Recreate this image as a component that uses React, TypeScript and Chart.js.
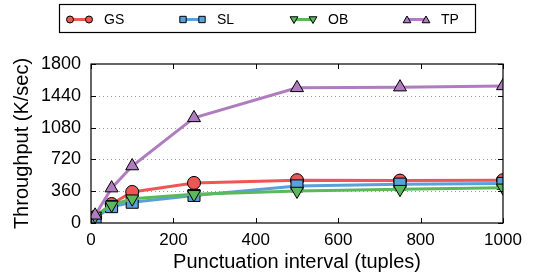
import React, { useEffect, useRef } from "react";
import { Chart, registerables } from "chart.js";
import { drawPoint } from "chart.js/helpers";

Chart.register(...registerables);

const intervals = [10, 50, 100, 250, 500, 750, 1000];
const gsValues = [70, 215, 352, 454, 485, 480, 485];
const slValues = [55, 185, 235, 312, 420, 440, 448];
const obValues = [80, 205, 275, 325, 362, 383, 398];
const tpValues = [87, 395, 645, 1190, 1530, 1538, 1552];
const seriesNames = ["GS", "SL", "OB", "TP"];
const xTicks = [0, 200, 400, 600, 800, 1000];
const yTicks = [0, 360, 720, 1080, 1440, 1800];

const FONT = "'Liberation Sans', Arial, Helvetica, sans-serif";

const styles = [
  { color: "#ee5555", point: "circle", r: 6.5, rot: 0, lr: 3.5 },
  { color: "#5aa0dc", point: "rect", r: 8.5, rot: 0, lr: 4.5 },
  { color: "#5cb85c", point: "triangle", r: 7.5, rot: 180, lr: 4.5 },
  { color: "#b07cc0", point: "triangle", r: 7.5, rot: 0, lr: 4.5 },
];

const legendStarts = [70, 183, 294, 407];

const gridPlugin = {
  id: "dottedGrid",
  beforeDatasetsDraw(chart: any) {
    const ctx = chart.ctx;
    const a = chart.chartArea;
    const ys = chart.scales.y;
    ctx.save();
    ctx.strokeStyle = "#999";
    ctx.lineWidth = 1;
    ctx.setLineDash([1, 3]);
    ctx.beginPath();
    yTicks.slice(1, -1).forEach((v) => {
      const py = Math.round(ys.getPixelForValue(v)) + 0.5;
      ctx.moveTo(a.left, py);
      ctx.lineTo(a.right, py);
    });
    ctx.stroke();
    ctx.restore();
  },
};

const framePlugin = {
  id: "frameLegend",
  afterDraw(chart: any) {
    const ctx = chart.ctx;
    const a = chart.chartArea;
    const xs = chart.scales.x;
    const ys = chart.scales.y;
    ctx.save();
    ctx.strokeStyle = "#000";
    ctx.lineWidth = 1.2;
    ctx.strokeRect(a.left, a.top, a.right - a.left, a.bottom - a.top);
    ctx.lineWidth = 1;
    ctx.beginPath();
    xTicks.forEach((v) => {
      const px = Math.round(xs.getPixelForValue(v)) + 0.5;
      ctx.moveTo(px, a.bottom);
      ctx.lineTo(px, a.bottom - 5);
      ctx.moveTo(px, a.top);
      ctx.lineTo(px, a.top + 5);
    });
    yTicks.forEach((v) => {
      const py = Math.round(ys.getPixelForValue(v)) + 0.5;
      ctx.moveTo(a.left, py);
      ctx.lineTo(a.left + 5, py);
      ctx.moveTo(a.right, py);
      ctx.lineTo(a.right - 5, py);
    });
    ctx.stroke();

    // legend
    ctx.lineWidth = 1.2;
    ctx.strokeRect(59.5, 4.5, 416, 28);
    const cy = 19.5;
    ctx.font = `14px ${FONT}`;
    ctx.textBaseline = "middle";
    seriesNames.forEach((name, i) => {
      const s = styles[i];
      const x1 = legendStarts[i];
      const x2 = x1 + 19;
      ctx.strokeStyle = s.color;
      ctx.lineWidth = 3;
      ctx.beginPath();
      ctx.moveTo(x1, cy);
      ctx.lineTo(x2, cy);
      ctx.stroke();
      [x1, x2].forEach((mx) => {
        ctx.fillStyle = s.color;
        ctx.strokeStyle = "#000";
        ctx.lineWidth = 1;
        drawPoint(
          ctx,
          { pointStyle: s.point, radius: s.lr, rotation: s.rot, borderWidth: 1 } as any,
          mx,
          cy + (s.point === "triangle" ? (s.rot ? -0.5 : 1) : 0)
        );
      });
      ctx.fillStyle = "#000";
      ctx.fillText(name, x1 + 34, cy + 0.5);
    });
    ctx.restore();
  },
};

export default function App() {
  const ref = useRef<HTMLCanvasElement | null>(null);
  useEffect(() => {
    document.body.style.margin = "0";
    const all = [gsValues, slValues, obValues, tpValues];
    const chart = new Chart(ref.current as HTMLCanvasElement, {
      type: "line",
      data: {
        datasets: all.map((vals, i) => ({
          label: seriesNames[i],
          data: intervals.map((x, j) => ({ x, y: vals[j] })),
          borderColor: styles[i].color,
          backgroundColor: styles[i].color,
          pointBackgroundColor: styles[i].color,
          pointBorderColor: "#000",
          pointBorderWidth: 1,
          borderWidth: 3,
          pointStyle: styles[i].point as any,
          pointRadius: styles[i].r,
          pointRotation: styles[i].rot,
          order: 4 - i,
          tension: 0,
          fill: false,
        })),
      },
      options: {
        animation: false,
        responsive: false,
        maintainAspectRatio: false,
        layout: { padding: { top: 64, right: 35, left: 0, bottom: 0 } },
        plugins: { legend: { display: false }, tooltip: { enabled: false } },
        scales: {
          x: {
            type: "linear",
            min: 0,
            max: 1000,
            afterFit: (s: any) => {
              s.height = 51;
            },
            ticks: {
              stepSize: 200,
              color: "#000",
              font: { family: FONT, size: 17 },
              padding: 7,
              maxRotation: 0,
              callback: (v: any) => String(v),
            },
            grid: { display: false, drawTicks: false },
            border: { display: false },
            title: {
              display: true,
              text: "Punctuation interval (tuples)",
              color: "#000",
              font: { family: FONT, size: 20 },
              padding: { top: 5, bottom: 0 },
            },
          },
          y: {
            min: 0,
            max: 1800,
            afterFit: (s: any) => {
              s.width = 91;
            },
            ticks: {
              stepSize: 360,
              color: "#000",
              font: { family: FONT, size: 18 },
              padding: 10,
              callback: (v: any) => String(v),
            },
            grid: { display: false, drawTicks: false },
            border: { display: false },
            title: {
              display: true,
              text: "Throughput (K/sec)",
              color: "#000",
              font: { family: FONT, size: 20 },
              padding: { top: 10, bottom: 0 },
            },
          },
        },
      },
      plugins: [gridPlugin, framePlugin],
    } as any);
    return () => chart.destroy();
  }, []);
  return (
    <div style={{ position: "absolute", left: 0, top: 0, width: 538, height: 274, background: "#fff" }}>
      <canvas ref={ref} width={538} height={274} style={{ width: 538, height: 274 }} />
    </div>
  );
}
